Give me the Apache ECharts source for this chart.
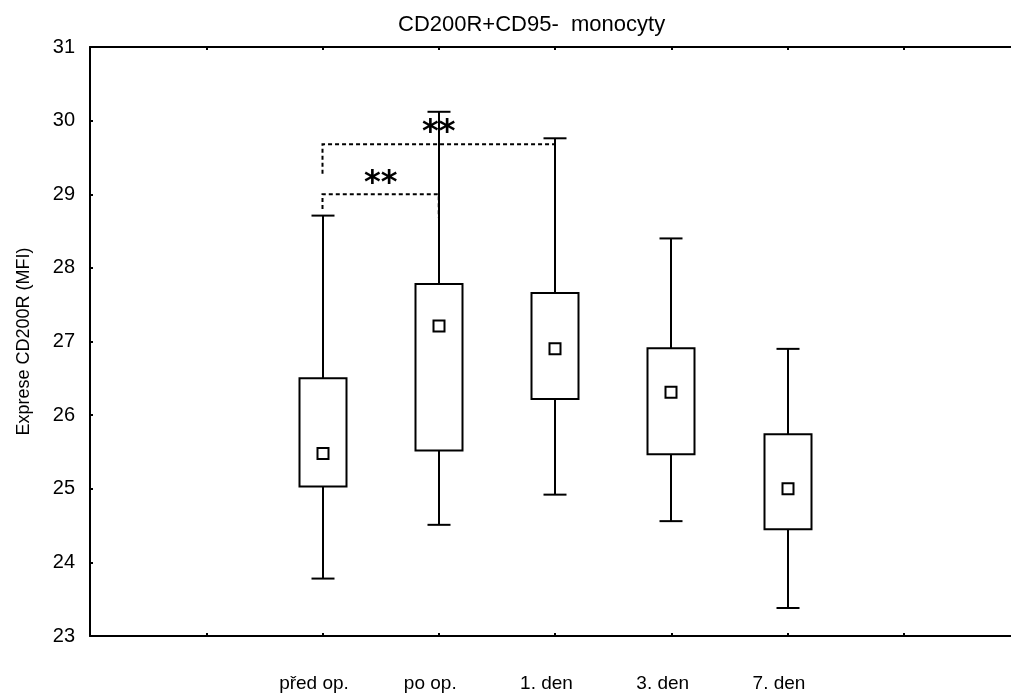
<!DOCTYPE html>
<html>
<head>
<meta charset="utf-8">
<script src="https://cdn.jsdelivr.net/npm/echarts@6/dist/echarts.min.js"></script>
<style>
  html, body { margin: 0; padding: 0; background: #fff; }
  #chart { width: 1011px; height: 695px; }
</style>
</head>
<body>
<div id="chart"></div>
<script>
// Groups on the x axis (first group sits on slot 2 of the value axis)
const categories = ['před op.', 'po op.', '1. den', '3. den', '7. den'];
const FIRST_SLOT = 2;

// Box statistics per group (MFI)
const whiskerLow  = [23.78, 24.51, 24.92, 24.56, 23.38];
const quartileLow = [25.03, 25.52, 26.22, 25.47, 24.45];
const quartileHigh= [26.50, 27.78, 27.66, 26.91, 25.74];
const whiskerHigh = [28.71, 30.12, 29.76, 28.40, 26.90];
const means       = [25.48, 27.21, 26.90, 26.31, 25.00];

// Significance brackets: group index from/to, bracket level, end drops
const sigFrom   = [0, 0];
const sigTo     = [1, 2];
const sigLevel  = [29.00, 29.68];
const sigDropL  = [28.80, 29.28];
const sigDropR  = [28.68, 29.30];
const sigLabels = ['**', '**'];

const yTicks = { min: 23, max: 31, step: 1 };

const boxData = categories.map((c, i) => [
  i + FIRST_SLOT, whiskerLow[i], quartileLow[i], quartileHigh[i], whiskerHigh[i], means[i]
]);
const sigData = sigFrom.map((f, i) => [
  f + FIRST_SLOT, sigTo[i] + FIRST_SLOT, sigLevel[i], sigDropL[i], sigDropR[i], i
]);

const BLACK = '#000';
const LW = 2;

function renderBox(params, api) {
  const x = api.value(0);
  const pLow = api.coord([x, api.value(1)]);
  const pQ1 = api.coord([x, api.value(2)]);
  const pQ3 = api.coord([x, api.value(3)]);
  const pHigh = api.coord([x, api.value(4)]);
  const pMean = api.coord([x, api.value(5)]);
  const cx = Math.round(pQ1[0]);
  const halfBox = 23.5, halfCap = 11.5, m = 5.5;
  const stroke = { stroke: BLACK, lineWidth: LW, fill: null };
  return {
    type: 'group',
    children: [
      { type: 'line', shape: { x1: cx, y1: pHigh[1], x2: cx, y2: pQ3[1] }, style: stroke },
      { type: 'line', shape: { x1: cx, y1: pQ1[1], x2: cx, y2: pLow[1] }, style: stroke },
      { type: 'line', shape: { x1: cx - halfCap, y1: pHigh[1], x2: cx + halfCap, y2: pHigh[1] }, style: stroke },
      { type: 'line', shape: { x1: cx - halfCap, y1: pLow[1], x2: cx + halfCap, y2: pLow[1] }, style: stroke },
      { type: 'rect', shape: { x: cx - halfBox, y: pQ3[1], width: 2 * halfBox, height: pQ1[1] - pQ3[1] },
        style: { stroke: BLACK, lineWidth: LW, fill: '#fff' } },
      { type: 'rect', shape: { x: cx - m, y: pMean[1] - m, width: 2 * m, height: 2 * m },
        style: { stroke: BLACK, lineWidth: LW, fill: '#fff' } }
    ]
  };
}

function renderSig(params, api) {
  const a = api.coord([api.value(0), api.value(2)]);
  const b = api.coord([api.value(1), api.value(2)]);
  const dl = api.coord([api.value(0), api.value(3)]);
  const dr = api.coord([api.value(1), api.value(4)]);
  const dash = { stroke: BLACK, lineWidth: LW, fill: null, lineDash: [4, 3] };
  return {
    type: 'group',
    children: [
      { type: 'polyline', shape: { points: [[a[0], dl[1]], a, b, [b[0], dr[1]]] }, style: dash },
      { type: 'text', x: (a[0] + b[0]) / 2, y: a[1] - 11,
        style: { text: sigLabels[api.value(5)], fill: BLACK, font: 'bold 32px "DejaVu Sans"',
                 align: 'center', verticalAlign: 'middle' } }
    ]
  };
}

const chart = echarts.init(document.getElementById('chart'), null, { renderer: 'canvas' });
chart.setOption({
  animation: false,
  backgroundColor: '#fff',
  title: {
    text: 'CD200R+CD95-  monocyty',
    left: 393, top: 9,
    textStyle: { fontFamily: 'Liberation Sans', fontSize: 22, fontWeight: 'normal', color: BLACK }
  },
  grid: { left: 90, top: 47, width: 930, height: 589, outerBoundsMode: 'none' },
  xAxis: [{
    type: 'value', min: 0, max: 8, interval: 1, position: 'bottom',
    splitLine: { show: false },
    axisLine: { show: true, lineStyle: { color: BLACK, width: LW } },
    axisTick: { show: true, inside: true, length: 3, lineStyle: { color: BLACK, width: 2 } },
    axisLabel: {
      show: true, margin: 38, padding: [0, 17, 0, 0],
      fontFamily: 'Liberation Sans', fontSize: 19, color: BLACK,
      formatter: v => categories[v - FIRST_SLOT] || ''
    }
  }, {
    type: 'value', min: 0, max: 8, interval: 1, position: 'top',
    splitLine: { show: false },
    axisLine: { show: true, lineStyle: { color: BLACK, width: LW } },
    axisTick: { show: true, inside: true, length: 3, lineStyle: { color: BLACK, width: 2 } },
    axisLabel: { show: false }
  }],
  yAxis: {
    type: 'value', min: yTicks.min, max: yTicks.max, interval: yTicks.step,
    name: 'Exprese CD200R (MFI)', nameLocation: 'middle', nameGap: 57,
    nameTextStyle: { fontFamily: 'Liberation Sans', fontSize: 18, color: BLACK },
    splitLine: { show: false },
    axisLine: { show: true, lineStyle: { color: BLACK, width: LW } },
    axisTick: { show: true, inside: true, length: 3, lineStyle: { color: BLACK, width: 2 } },
    axisLabel: { margin: 15, fontFamily: 'Liberation Sans', fontSize: 20, color: BLACK }
  },
  series: [{
    type: 'custom', xAxisIndex: 0, renderItem: renderSig, data: sigData, z: 1,
    encode: { x: [0, 1], y: [2, 3, 4] }
  }, {
    type: 'custom', xAxisIndex: 0, renderItem: renderBox, data: boxData, z: 2,
    encode: { x: 0, y: [1, 2, 3, 4, 5] }
  }]
});
</script>
</body>
</html>
